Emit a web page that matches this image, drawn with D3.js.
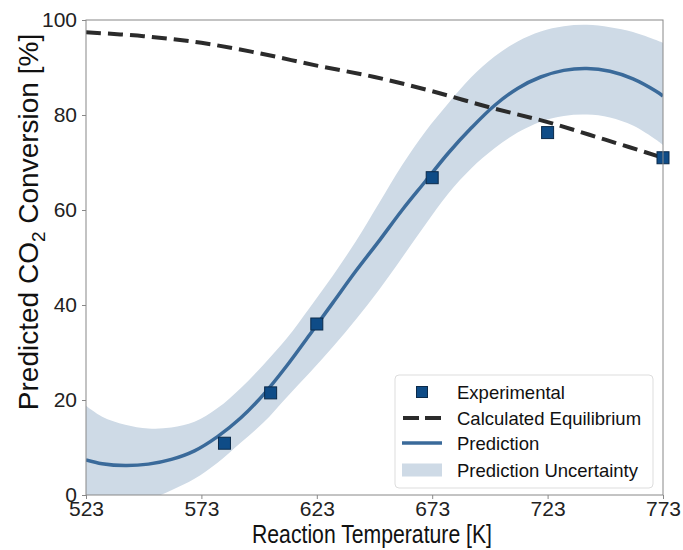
<!DOCTYPE html>
<html>
<head>
<meta charset="utf-8">
<script src="https://cdn.jsdelivr.net/npm/d3@7"></script>
<style>
  body { margin: 0; background: #fff; }
  svg { font-family: "Liberation Sans", Arial, sans-serif; }
  .axis path, .axis line { stroke: #888; }
  .axis text { fill: #222; font-size: 21px; }
</style>
</head>
<body>
<div class="chart"></div>
<script>
// temperature grid for the model curves
const temps = [523, 530, 540, 550, 560, 570, 580, 590, 600, 610, 620, 630, 640, 650,
  660, 670, 680, 690, 700, 710, 720, 730, 740, 750, 760, 770, 773];
const prediction = [7.4, 6.6, 6.2, 6.5, 7.5, 9.3, 12.3, 16.2, 21.2, 27.2, 33.8, 40.5, 47.2, 53.5,
  60, 66, 72, 77.3, 82, 85.6, 88, 89.4, 89.8, 89.2, 87.6, 85, 84];
const upper = [18.8, 16.5, 14.8, 14, 14.2, 15.4, 18.3, 22.5, 27.5, 33, 39.5, 46.2, 53.5, 61.5,
  69.5, 76.5, 82.5, 88, 92.3, 95.5, 97.6, 98.7, 99, 98.5, 97.5, 95.8, 95.2];
const lower = [-4, -3.2, -2.4, -1, 1, 3.4, 6.8, 11, 15.3, 20.6, 25.8, 31.2, 37, 43.2,
  50, 56.9, 63.5, 68.8, 73, 76.3, 78.6, 79.8, 80.1, 79.5, 77.8, 74.8, 73.7];

// calculated equilibrium
const eqTemps = [523, 548, 573, 598, 623, 648, 673, 698, 723, 748, 773];
const equilibrium = [97.4, 96.6, 95.2, 93, 90.4, 88, 85, 81.6, 78.5, 74.8, 71];

// experimental points
const expTemps = [583, 603, 623, 673, 723, 773];
const expValues = [10.9, 21.5, 36, 66.8, 76.3, 71];

const xTicks = [523, 573, 623, 673, 723, 773];
const yTicks = [0, 20, 40, 60, 80, 100];

const blue = "#3a6a9a";
const band = "#cedae6";
const marker = "#0f4c87";

// margin convention
const margin = { top: 20, right: 20, bottom: 55, left: 86 };
const width = 683 - margin.left - margin.right,
  height = 550 - margin.top - margin.bottom;

const root = d3.select(".chart").append("svg")
  .attr("width", 683)
  .attr("height", 550);
const svg = root.append("g")
  .attr("transform", `translate(${margin.left},${margin.top})`);

const x = d3.scaleLinear().domain([523, 773]).range([0, width]);
const y = d3.scaleLinear().domain([0, 100]).range([height, 0]);

svg.append("clipPath").attr("id", "clip")
  .append("rect").attr("width", width).attr("height", height);

const plot = svg.append("g").attr("clip-path", "url(#clip)");

// uncertainty band
const area = d3.area()
  .x((d, i) => x(temps[i]))
  .y0((d, i) => y(lower[i]))
  .y1((d, i) => y(upper[i]))
  .curve(d3.curveCatmullRom);
plot.append("path").datum(temps)
  .attr("d", area)
  .attr("fill", band);

// equilibrium dashed line
const eqLine = d3.line()
  .x((d, i) => x(eqTemps[i]))
  .y((d, i) => y(equilibrium[i]))
  .curve(d3.curveCatmullRom);
plot.append("path").datum(eqTemps)
  .attr("d", eqLine)
  .attr("fill", "none")
  .attr("stroke", "#2b2b2b")
  .attr("stroke-width", 4)
  .attr("stroke-dasharray", "15,7");

// prediction line
const predLine = d3.line()
  .x((d, i) => x(temps[i]))
  .y((d, i) => y(prediction[i]))
  .curve(d3.curveCatmullRom);
plot.append("path").datum(temps)
  .attr("d", predLine)
  .attr("fill", "none")
  .attr("stroke", blue)
  .attr("stroke-width", 3.5);

// experimental squares (not clipped, last one sits on the spine)
const s = 12;
svg.selectAll(".exp").data(expTemps)
  .enter().append("rect")
  .attr("class", "exp")
  .attr("x", d => x(d) - s / 2)
  .attr("y", (d, i) => y(expValues[i]) - s / 2)
  .attr("width", s)
  .attr("height", s)
  .attr("fill", marker)
  .attr("stroke", "#0b2a4a")
  .attr("stroke-width", 1);

// axes
const xAxis = d3.axisBottom(x).tickValues(xTicks).tickSize(4).tickPadding(2).tickFormat(d3.format("d"));
const yAxis = d3.axisLeft(y).tickValues(yTicks).tickSize(4).tickPadding(5);

svg.append("g").attr("class", "axis x-axis")
  .attr("transform", `translate(0,${height})`)
  .call(xAxis)
  .call(g => g.select(".domain").remove());
svg.append("g").attr("class", "axis y-axis")
  .call(yAxis)
  .call(g => g.select(".domain").remove());

// frame
svg.append("rect")
  .attr("width", width).attr("height", height)
  .attr("fill", "none").attr("stroke", "#888").attr("stroke-width", 1);

// axis titles
root.append("text")
  .attr("x", 372)
  .attr("y", 543)
  .attr("text-anchor", "middle")
  .attr("font-size", 26)
  .attr("textLength", 240)
  .attr("lengthAdjust", "spacingAndGlyphs")
  .attr("fill", "#111")
  .text("Reaction Temperature [K]");

const yTitle = root.append("text")
  .attr("transform", "translate(38,222) rotate(-90)")
  .attr("text-anchor", "middle")
  .attr("font-size", 28)
  .attr("fill", "#111");
yTitle.append("tspan").text("Predicted CO");
yTitle.append("tspan").attr("font-size", 19).attr("dy", 7).text("2");
yTitle.append("tspan").attr("dy", -7).text(" Conversion [%]");

// legend
const leg = svg.append("g").attr("transform", "translate(309,355)");
leg.append("rect")
  .attr("width", 258).attr("height", 113)
  .attr("rx", 4)
  .attr("fill", "#fff").attr("fill-opacity", 0.85)
  .attr("stroke", "#ddd");

const items = ["Experimental", "Calculated Equilibrium", "Prediction", "Prediction Uncertainty"];
const rowY = [17, 43, 68, 95];
items.forEach((name, i) => {
  const g = leg.append("g").attr("transform", `translate(0,${rowY[i]})`);
  if (i === 0) {
    g.append("rect").attr("x", 27 - 5.5).attr("y", -5.5).attr("width", 11).attr("height", 11)
      .attr("fill", marker).attr("stroke", "#0b2a4a");
  } else if (i === 1) {
    g.append("line").attr("x1", 8).attr("x2", 46).attr("y1", 0).attr("y2", 0)
      .attr("stroke", "#2b2b2b").attr("stroke-width", 4).attr("stroke-dasharray", "16,6");
  } else if (i === 2) {
    g.append("line").attr("x1", 7).attr("x2", 47).attr("y1", 0).attr("y2", 0)
      .attr("stroke", blue).attr("stroke-width", 3.5);
  } else {
    g.append("rect").attr("x", 7).attr("y", -6.5).attr("width", 40).attr("height", 13)
      .attr("fill", band);
  }
  g.append("text").attr("x", 62).attr("y", 6.5)
    .attr("font-size", 18.5).attr("fill", "#111").text(name);
});
</script>
</body>
</html>
